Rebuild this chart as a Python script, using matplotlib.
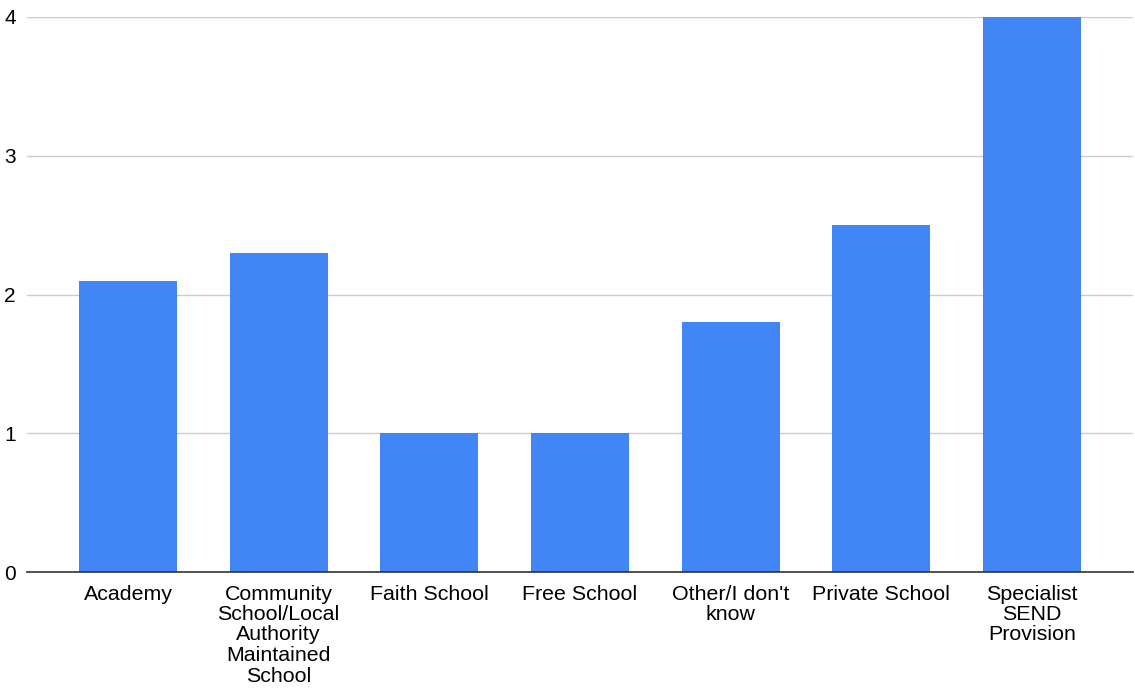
import matplotlib.pyplot as plt

plt.rcParams['font.family'] = ['Liberation Sans', 'DejaVu Sans']

categories = ["Academy", "Community\nSchool/Local\nAuthority\nMaintained\nSchool",
              "Faith School", "Free School", "Other/I don't\nknow",
              "Private School", "Specialist\nSEND\nProvision"]
values = [2.1, 2.3, 1.0, 1.0, 1.8, 2.5, 4.0]
yticks = [0, 1, 2, 3, 4]

fig = plt.figure(figsize=(11.35, 6.88), dpi=100)
ax = fig.add_axes([27 / 1135, 1 - 572 / 688, (1133 - 27) / 1135, (572 - 17) / 688])

x = range(len(categories))
ax.bar(x, values, width=0.65, color="#4285F4", zorder=3)

ax.set_xlim(-0.67, 6.67)
ax.set_ylim(0, 4)
ax.set_yticks(yticks)
ax.set_yticklabels([str(t) for t in yticks], fontsize=15)
ax.set_xticks(list(x))
ax.set_xticklabels(categories, fontsize=15.4, linespacing=1.1)

ax.grid(axis="y", color="#cccccc", linewidth=1, zorder=0)
for s in ["top", "right", "left"]:
    ax.spines[s].set_visible(False)
ax.spines["bottom"].set_color("#333333")
ax.spines["bottom"].set_linewidth(1.2)
ax.spines["bottom"].set_zorder(4)
ax.tick_params(axis="both", length=0)
ax.tick_params(axis="y", pad=8)
ax.tick_params(axis="x", pad=9)

plt.savefig("out.png", dpi=100)
